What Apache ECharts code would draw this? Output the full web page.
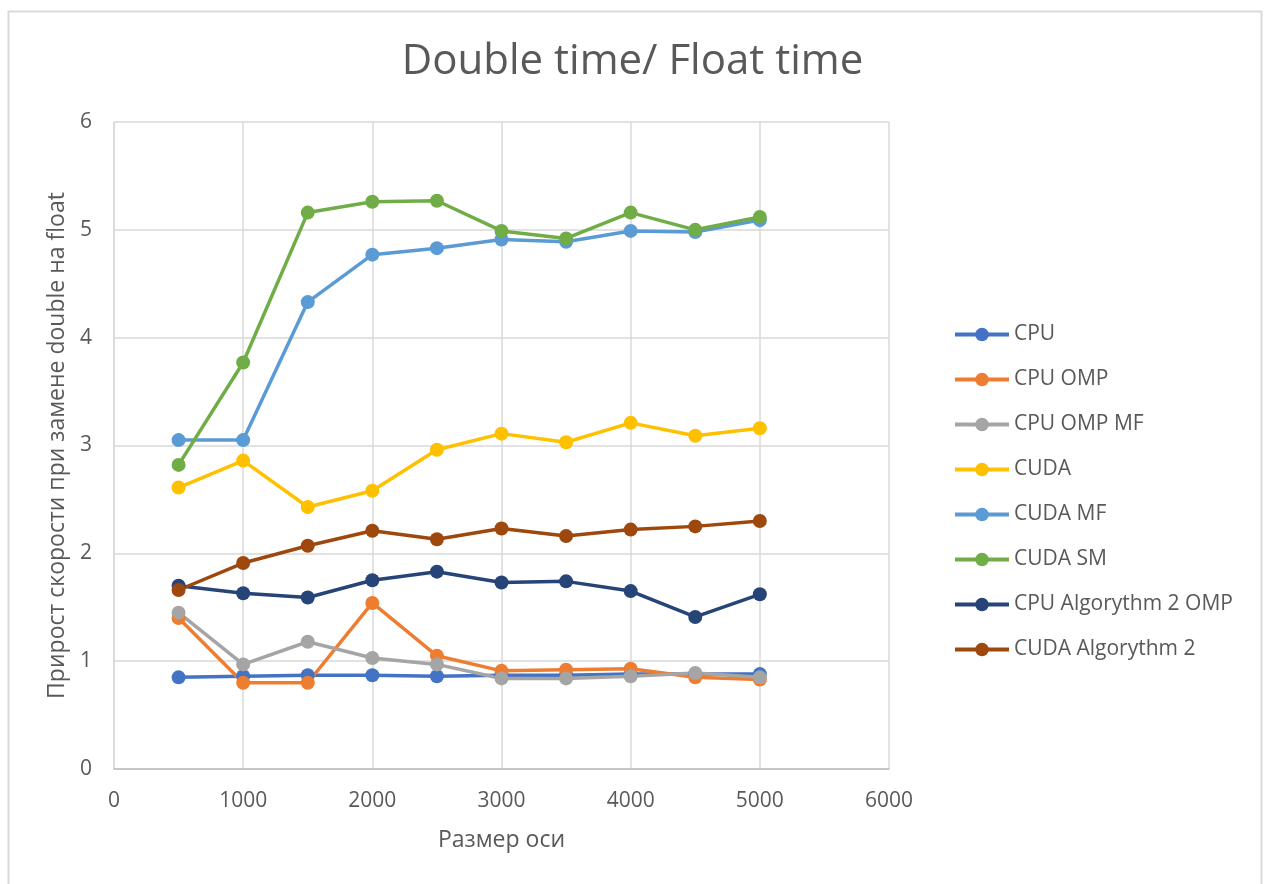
<!DOCTYPE html>
<html>
<head>
<meta charset="utf-8">
<script src="https://cdn.jsdelivr.net/npm/echarts@6/dist/echarts.min.js"></script>
<style>
  html, body { margin: 0; padding: 0; background: #ffffff; }
  #chart { width: 1265px; height: 884px; }
</style>
</head>
<body>
<div id="chart"></div>
<script>
// Matrix size along one axis
const sizes = [500, 1000, 1500, 2000, 2500, 3000, 3500, 4000, 4500, 5000];

// Speed-up ratio (double time / float time) for each implementation
const cpu         = [0.85, 0.86, 0.87, 0.87, 0.86, 0.87, 0.87, 0.88, 0.88, 0.88];
const cpuOmp      = [1.40, 0.80, 0.80, 1.54, 1.05, 0.91, 0.92, 0.93, 0.85, 0.83];
const cpuOmpMf    = [1.45, 0.97, 1.18, 1.03, 0.97, 0.84, 0.84, 0.86, 0.89, 0.85];
const cuda        = [2.61, 2.86, 2.43, 2.58, 2.96, 3.11, 3.03, 3.21, 3.09, 3.16];
const cudaMf      = [3.05, 3.05, 4.33, 4.77, 4.83, 4.91, 4.89, 4.99, 4.98, 5.09];
const cudaSm      = [2.82, 3.77, 5.16, 5.26, 5.27, 4.99, 4.92, 5.16, 5.00, 5.12];
const cpuAlg2Omp  = [1.70, 1.63, 1.59, 1.75, 1.83, 1.73, 1.74, 1.65, 1.41, 1.62];
const cudaAlg2    = [1.66, 1.91, 2.07, 2.21, 2.13, 2.23, 2.16, 2.22, 2.25, 2.30];

const seriesNames = ['CPU', 'CPU OMP', 'CPU OMP MF', 'CUDA', 'CUDA MF', 'CUDA SM',
                     'CPU Algorythm 2 OMP', 'CUDA Algorythm 2'];
const seriesValues = [cpu, cpuOmp, cpuOmpMf, cuda, cudaMf, cudaSm, cpuAlg2Omp, cudaAlg2];
const colors = ['#4472C4', '#ED7D31', '#A5A5A5', '#FFC000', '#5B9BD5', '#70AD47',
                '#264478', '#9E480E'];

const FONT = '"Open Sans", "Liberation Sans", sans-serif';
const TEXT = '#595959';

const chart = echarts.init(document.getElementById('chart'), null, { renderer: 'canvas' });

chart.setOption({
  backgroundColor: '#ffffff',
  animation: false,
  color: colors,
  graphic: [{
    type: 'rect',
    left: 6, top: 9,
    shape: { width: 1253, height: 890 },
    style: { fill: 'none', stroke: '#D9D9D9', lineWidth: 2 },
    silent: true
  }],
  title: {
    text: 'Double time/ Float time',
    left: 'center',
    top: 36,
    textStyle: { fontFamily: FONT, fontSize: 42, fontWeight: 'normal', color: TEXT }
  },
  grid: { left: 114, top: 122, width: 775, height: 647, containLabel: false },
  legend: {
    orient: 'vertical',
    left: 948,
    top: 319,
    itemWidth: 54,
    itemHeight: 17,
    itemGap: 24,
    lineStyle: { width: 4 },
    textStyle: { fontFamily: FONT, fontSize: 21, color: TEXT, lineHeight: 21 },
    data: seriesNames
  },
  xAxis: {
    type: 'value',
    min: 0, max: 6000, interval: 1000,
    name: 'Размер оси',
    nameLocation: 'middle',
    nameGap: 60,
    nameTextStyle: { fontFamily: FONT, fontSize: 23, color: TEXT },
    axisLine: { show: true, onZero: false, lineStyle: { color: '#BFBFBF', width: 1.5 } },
    axisTick: { show: false },
    axisLabel: { margin: 22, fontFamily: FONT, fontSize: 21, color: TEXT,
                 formatter: v => String(v) },
    splitLine: { show: true, lineStyle: { color: '#D9D9D9', width: 1.5 } }
  },
  yAxis: {
    type: 'value',
    min: 0, max: 6, interval: 1,
    name: 'Прирост скорости при замене double на float',
    nameLocation: 'middle',
    nameGap: 44,
    nameTextStyle: { fontFamily: FONT, fontSize: 23, color: TEXT },
    axisLine: { show: true, lineStyle: { color: '#D9D9D9', width: 1.5 } },
    axisTick: { show: false },
    axisLabel: { margin: 22, fontFamily: FONT, fontSize: 21, color: TEXT },
    splitLine: { show: true, lineStyle: { color: '#D9D9D9', width: 1.5 } }
  },
  series: seriesNames.map((name, i) => ({
    name: name,
    type: 'line',
    data: sizes.map((x, j) => [x, seriesValues[i][j]]),
    symbol: 'circle',
    symbolSize: 14,
    showSymbol: true,
    lineStyle: { width: 3.5, color: colors[i] },
    itemStyle: { color: colors[i] },
    emphasis: { disabled: true }
  }))
});
</script>
</body>
</html>
